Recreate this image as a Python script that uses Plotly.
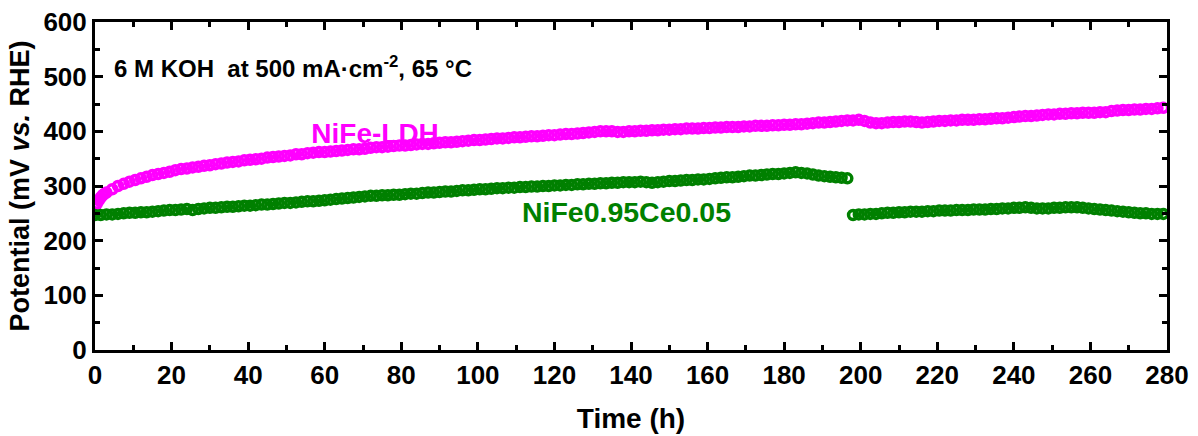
import numpy as np
import plotly.graph_objects as go

sample_step_h = 1.5

# NiFe-LDH potential (mV vs. RHE): denser early samples (0-3 h every 0.5 h)
initial_step_h = 0.5
nife_ldh_initial = [262, 268, 274, 279, 283, 286, 288]
# then every 1.5 h from 4.5 h
main_start_h = 4.5
nife_ldh = [
    294, 300, 304, 308, 311, 314, 317,
    320, 322, 324, 326, 329, 331, 332, 334, 335, 337,
    338, 340, 341, 343, 344, 345, 347, 348, 349, 350,
    352, 353, 354, 355, 356, 358, 358, 360, 361, 362,
    362, 363, 364, 365, 366, 367, 367, 368, 370, 371,
    371, 372, 373, 374, 374, 375, 376, 377, 377, 378,
    379, 380, 380, 381, 382, 383, 384, 384, 385, 386,
    387, 387, 388, 389, 389, 390, 391, 391, 392, 393,
    393, 394, 395, 395, 396, 397, 398, 399, 400, 400,
    400, 399, 399, 400, 400, 401, 401, 402, 402, 403,
    403, 404, 404, 405, 405, 405, 406, 406, 407, 407,
    408, 408, 408, 409, 409, 410, 410, 410, 411, 411,
    412, 412, 413, 413, 414, 415, 416, 416, 417, 418,
    419, 420, 420, 421, 419, 416, 415, 415, 416, 417,
    417, 418, 418, 417, 416, 417, 418, 419, 419, 420,
    420, 421, 421, 421, 422, 422, 423, 424, 424, 425,
    426, 427, 428, 428, 429, 430, 431, 431, 432, 432,
    433, 433, 434, 434, 434, 435, 435, 437, 438, 439,
    439, 440, 440, 441, 441, 442, 443,
]

# NiFe0.95Ce0.05, first run: 0 h to 196.5 h every 1.5 h
nifece_run1 = [
    247, 247, 248, 248, 249, 250, 251, 251, 252, 252,
    253, 254, 255, 256, 256, 257, 258, 256, 258, 259,
    260, 260, 261, 262, 262, 263, 264, 264, 265, 266,
    266, 267, 268, 269, 269, 270, 271, 272, 272, 273,
    274, 275, 276, 277, 278, 279, 280, 281, 282, 282,
    283, 283, 284, 284, 285, 286, 286, 287, 288, 288,
    289, 290, 290, 291, 292, 292, 293, 294, 294, 295,
    296, 296, 297, 297, 298, 298, 299, 299, 300, 300,
    301, 301, 302, 302, 303, 303, 304, 304, 305, 305,
    306, 306, 307, 307, 307, 308, 307, 306, 307, 308,
    309, 309, 310, 311, 311, 312, 312, 313, 314, 315,
    316, 316, 317, 318, 319, 319, 320, 321, 322, 322,
    323, 324, 325, 324, 323, 321, 319, 318, 317, 316,
    315, 314,
]

# NiFe0.95Ce0.05, second run: from 198 h every 1.5 h
run2_start_h = 198
nifece_run2 = [
    247, 248, 248, 249, 249, 250, 251, 251, 252, 252,
    253, 253, 253, 254, 254, 255, 255, 255, 256, 256,
    256, 257, 257, 257, 258, 258, 259, 259, 260, 260,
    261, 260, 259, 259, 259, 260, 260, 261, 261, 261,
    260, 259, 258, 257, 256, 255, 254, 253, 252, 251,
    250, 250, 249, 249, 249,
]

x_ticks = list(range(0, 281, 20))
y_ticks = list(range(0, 601, 100))

t_ldh = np.concatenate([np.arange(len(nife_ldh_initial)) * initial_step_h,
                        main_start_h + np.arange(len(nife_ldh)) * sample_step_h])
v_ldh = nife_ldh_initial + nife_ldh
t_run1 = np.arange(len(nifece_run1)) * sample_step_h
t_run2 = run2_start_h + np.arange(len(nifece_run2)) * sample_step_h

MAGENTA = "#ff00ff"
GREEN = "#008000"
FONT = "Arial, Liberation Sans, sans-serif"

fig = go.Figure()

# series labels drawn beneath the curves
fig.add_trace(go.Scatter(x=[56.5], y=[391], mode="text", text=["<b>NiFe-LDH</b>"],
                         textposition="middle right",
                         textfont=dict(family=FONT, size=28, color=MAGENTA),
                         showlegend=False, hoverinfo="skip"))
fig.add_trace(go.Scatter(x=[111.5], y=[247], mode="text", text=["<b>NiFe0.95Ce0.05</b>"],
                         textposition="middle right",
                         textfont=dict(family=FONT, size=28.5, color=GREEN),
                         showlegend=False, hoverinfo="skip"))

mk = dict(symbol="circle-open", size=9, line=dict(width=3.5))
fig.add_trace(go.Scatter(x=t_ldh, y=v_ldh, mode="markers", name="NiFe-LDH",
                         marker=dict(color=MAGENTA, **mk), showlegend=False))
fig.add_trace(go.Scatter(x=t_run1, y=nifece_run1, mode="markers", name="NiFe0.95Ce0.05",
                         marker=dict(color=GREEN, **mk), showlegend=False))
fig.add_trace(go.Scatter(x=t_run2, y=nifece_run2, mode="markers", name="NiFe0.95Ce0.05",
                         marker=dict(color=GREEN, **mk), showlegend=False))

fig.add_annotation(x=4.4, y=517, xref="x", yref="y", xanchor="left", yanchor="middle",
                   text="<b>6 M KOH  at 500 mA·cm<sup>-2</sup>, 65 °C</b>",
                   showarrow=False, font=dict(family=FONT, size=24, color="black"))

axis_common = dict(showline=True, linecolor="black", linewidth=3, mirror="ticks",
                   ticks="inside", ticklen=8, tickwidth=3, tickcolor="black",
                   showgrid=False, zeroline=False,
                   tickfont=dict(family=FONT, size=26, color="black"))

fig.update_xaxes(range=[0, 280], tickvals=x_ticks,
                 ticktext=[f"<b>{v}</b>" for v in x_ticks],
                 minor=dict(dtick=10, ticks="inside", ticklen=5, tickwidth=3, tickcolor="black"),
                 title=dict(text="<b>Time (h)</b>", font=dict(family=FONT, size=28, color="black"),
                            standoff=20),
                 **axis_common)
fig.update_yaxes(range=[0, 600], tickvals=y_ticks,
                 ticktext=[f"<b>{v}</b>" for v in y_ticks],
                 minor=dict(dtick=50, ticks="inside", ticklen=5, tickwidth=3, tickcolor="black"),
                 title=dict(text="<b>Potential (mV <i>vs.</i> RHE)</b>",
                            font=dict(family=FONT, size=27, color="black"), standoff=6),
                 **axis_common)

fig.update_layout(width=1198, height=436, margin=dict(l=95, r=31, t=22, b=86, autoexpand=False),
                  plot_bgcolor="white", paper_bgcolor="white", showlegend=False)

fig.write_html("out.html")
